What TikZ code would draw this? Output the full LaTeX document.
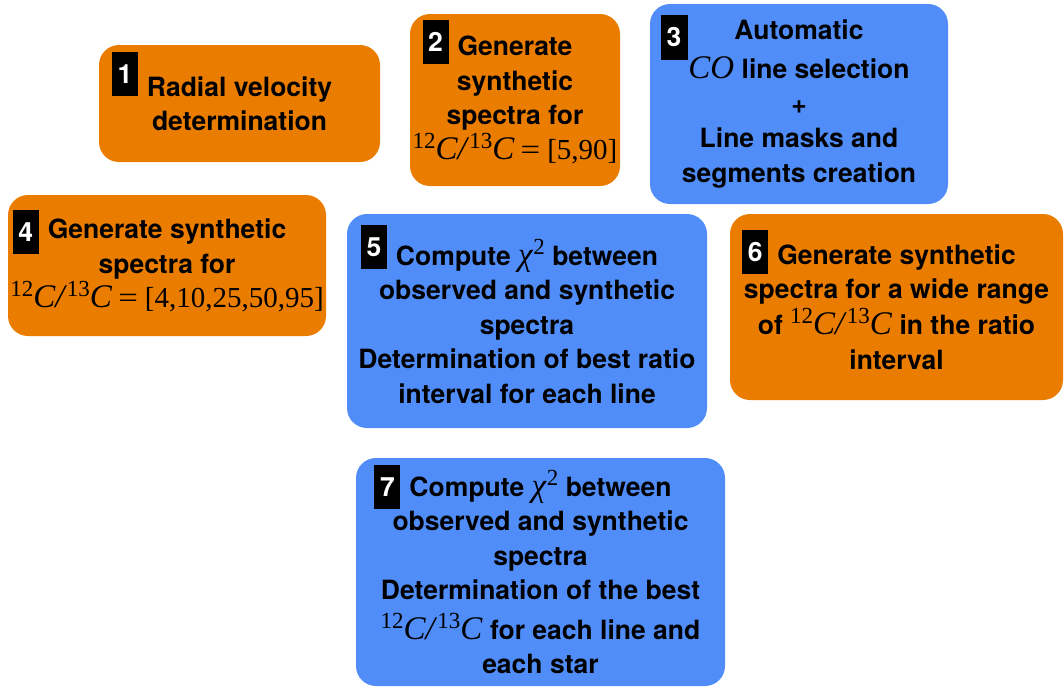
\documentclass[tikz,border=0pt]{standalone}
\usepackage{graphicx}
\usepackage{fontspec}
\setmainfont{TeX Gyre Heros}
\newfontfamily\mfont{Liberation Serif}

\definecolor{steporange}{RGB}{234,125,0}
\definecolor{stepblue}{RGB}{80,141,249}

% serif "math" pieces set as text
\newcommand{\mth}{\mfont\fontsize{33}{34}\selectfont\mdseries}
\newcommand{\sups}[1]{\raisebox{11pt}{\fontsize{23}{23}\selectfont #1}}
\newcommand{\ratio}{{\mth\sups{12}\textit{C/}\sups{13}\textit{C}}}
\newcommand{\chisq}{{\mth\textit{χ}\sups{2}}}
\newcommand{\COm}{{\mth\textit{CO}}}
\newcommand{\eqv}[1]{{\mfont\fontsize{29}{34}\selectfont\mdseries\hspace{6pt}\scalebox{1.2}[1]{=}\hspace{7pt}#1}}
% black step number badge hanging left of the first line; #1 = depth below baseline
\newcommand{\badge}[2][8]{\llap{\smash{\raisebox{-#1pt}{\setlength{\fboxsep}{0pt}%
  \colorbox{black}{\rule{0pt}{44pt}\makebox[26pt]{\raisebox{12.5pt}{\textcolor{white}{#2}}}}}}%
  \hspace{9pt}}}

\tikzset{
  card/.style={rounded corners=20pt, inner sep=0pt, align=center,
    font=\fontsize{26.5}{34.5}\selectfont\bfseries},
  orangecard/.style={card, fill=steporange},
  bluecard/.style={card, fill=stepblue},
  numtag/.style={fill=black, text=white, inner sep=0pt, minimum width=27pt,
    minimum height=45pt, font=\fontsize{26.5}{34}\selectfont\bfseries}
}

\begin{document}
\begin{tikzpicture}[x=1pt,y=-1pt]
\useasboundingbox (0,0) rectangle (1064,689);

\node[orangecard, minimum width=281pt, minimum height=117pt] (s1) at (239.5,103.5)
  {\badge[0]{1}Radial velocity\\determination};

\node[orangecard, minimum width=210pt, minimum height=172pt] (s2) at (515,100)
  {\badge[8]{2}Generate\\synthetic\\spectra for\\\ratio\eqv{[5,90]}};

\node[bluecard, minimum width=298pt, minimum height=200pt] (s3) at (799,104)
  {Automatic\\[5pt]\COm{} line selection\\+\\Line masks and\\segments creation};
\node[numtag] (n3) at (674,37.5) {3};

\node[orangecard, minimum width=318pt, minimum height=141pt] (s4) at (167,265.5)
  {\badge[15]{4}Generate synthetic\\spectra for\\\ratio\eqv{[4,10,25,50,95]}};

\node[bluecard, minimum width=360pt, minimum height=214pt] (s5) at (527,321)
  {\badge[4]{5}Compute \chisq{} between\\observed and synthetic\\spectra\\Determination of best ratio\\interval for each line};

\node[orangecard, minimum width=333pt, minimum height=186pt] (s6) at (896.5,307)
  {\badge[10]{6}Generate synthetic\\spectra for a wide range\\[1.5pt]of \ratio{} in the ratio\\interval};

\node[bluecard, minimum width=369pt, minimum height=228pt] (s7) at (540.5,572)
  {\badge[13]{7}Compute \chisq{} between\\observed and synthetic\\spectra\\Determination of the best\\[5pt]\ratio{} for each line and\\each star};
\end{tikzpicture}
\end{document}
